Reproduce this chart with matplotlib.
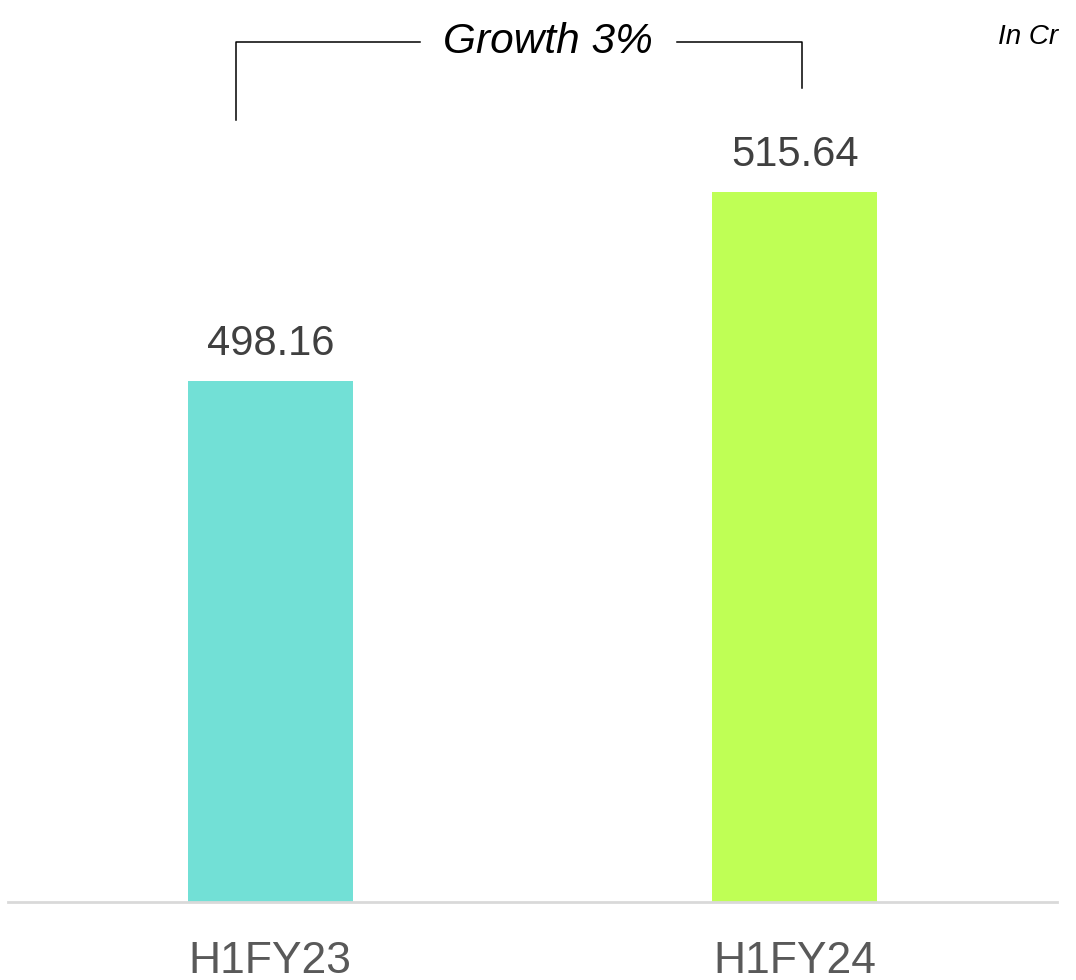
import matplotlib.pyplot as plt

plt.rcParams['font.family'] = ['Liberation Sans', 'DejaVu Sans']

periods = ['H1FY23', 'H1FY24']
revenue = [498.16, 515.64]
bar_colors = ['#72E0D6', '#BFFF55']
growth_label = 'Growth 3%'
unit_label = 'In Cr'

fig = plt.figure(figsize=(10.76, 9.8), dpi=100)
ax = fig.add_axes([8 / 1076, 1 - 902 / 980, 1049 / 1076, 902 / 980])

x = range(len(periods))
bars = ax.bar(x, revenue, width=0.314, color=bar_colors, zorder=2)
ax.set_xlim(-0.5, 1.5)
ax.set_ylim(450, 533.4)

for b, v in zip(bars, revenue):
    ax.annotate(f'{v:.2f}', (b.get_x() + b.get_width() / 2, v),
                xytext=(0, 12), textcoords='offset points',
                ha='center', va='bottom', fontsize=30, color='#404040')

ax.set_xticks(list(x))
ax.set_xticklabels(periods, fontsize=32, color='#595959')
ax.tick_params(axis='x', length=0, pad=28)
ax.set_yticks([])
for s in ['top', 'left', 'right']:
    ax.spines[s].set_visible(False)
ax.spines['bottom'].set_color('#D9D9D9')
ax.spines['bottom'].set_linewidth(2)

# growth bracket
ytop = 529.5
lw = 1.1
ax.plot([-0.066, -0.066, 0.285], [522.3, ytop, ytop], color='black', lw=lw, clip_on=False)
ax.plot([0.775, 1.014, 1.014], [ytop, ytop, 525.3], color='black', lw=lw, clip_on=False)
ax.text(0.529, ytop, growth_label, ha='center', va='center', fontsize=30.5,
        style='italic', color='black')

fig.text(1058 / 1076, 1 - 37 / 980, unit_label, ha='right', va='center',
         fontsize=20, style='italic', color='black')

fig.savefig('out.png', dpi=100)
